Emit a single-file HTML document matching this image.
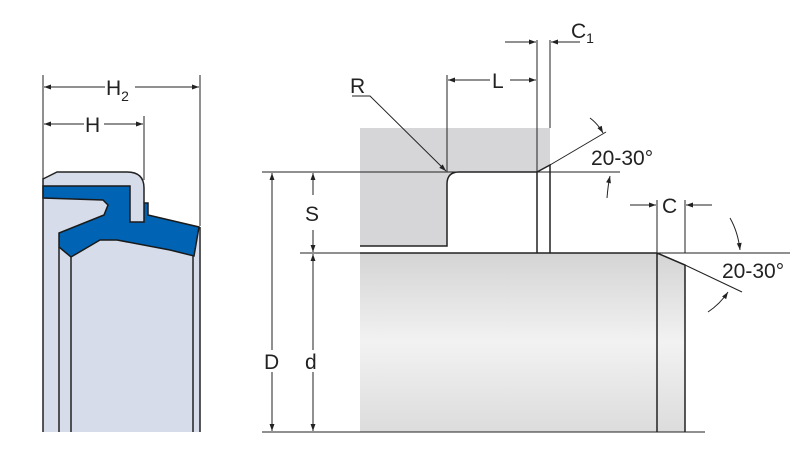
<!DOCTYPE html>
<html><head><meta charset="utf-8"><style>body{margin:0;background:#fff}svg{display:block}text{font-family:"Liberation Sans",sans-serif;fill:#222}</style></head><body>
<svg width="800" height="450" viewBox="0 0 800 450" xmlns="http://www.w3.org/2000/svg">
<defs>
<marker id="a" viewBox="0 0 10 10" refX="10" refY="5" markerWidth="9" markerHeight="7" orient="auto-start-reverse" markerUnits="userSpaceOnUse"><path d="M0,1.5L10,5L0,8.5z" fill="#222"/></marker>
<linearGradient id="g" x1="0" y1="0" x2="0" y2="1"><stop offset="0" stop-color="#d4d4d4"/><stop offset="0.5" stop-color="#f2f2f2"/><stop offset="1" stop-color="#dcdcdc"/></linearGradient>
</defs>
<g stroke="#222" fill="none" stroke-width="1">
<!-- seal -->
<path d="M43,179L57,172L127,172Q144,172 144,188L144,222L148,215L199,227L200,432L43,432Z" fill="#d6dce9" stroke="none"/>
<path d="M43,186L130,186L130,222L144,222L144,203L148,203L148,215L199,227L194,256L170,250L117,240L100,240L71,257L59,247L59,233L104,215L108,205L103,200L43,198Z" fill="#0063b4" stroke="#1a1a1a" stroke-width="1.5"/>
<path d="M43,179L57,172L127,172Q144,172 144,188L144,203" stroke-width="1.5"/>
<path d="M43,178V432M59,247V432M71,257V432M193,256V432M200,227V432" stroke-width="1.5"/>
<path d="M43,75V178M200,75V226M144,116V180"/>
<path d="M44,87H199" marker-start="url(#a)" marker-end="url(#a)"/>
<path d="M44,124H143" marker-start="url(#a)" marker-end="url(#a)"/>
<!-- housing -->
<path d="M360,128H550V165L537,172H459Q447,172 447,184V246H360Z" fill="#d6d6d8" stroke="none"/>
<path d="M360,246H447V184Q447,172 459,172H537V253M537,172L550,165V253" stroke-width="1.5"/>
<!-- shaft -->
<path d="M360,253H657L685,265V432H360Z" fill="url(#g)" stroke="none"/>
<path d="M360,253H657L685,265V432M657,253V432" stroke-width="1.5"/>
<!-- extension lines -->
<path d="M262,172H620M300,253H790M262,432H705"/>
<path d="M447,75V172M537,40V172M550,40V128M657,200V253M685,200V253"/>
<!-- D d S -->
<path d="M272,173V431" marker-start="url(#a)" marker-end="url(#a)"/>
<path d="M313,254V431" marker-start="url(#a)" marker-end="url(#a)"/>
<path d="M313,195V173" marker-end="url(#a)"/><path d="M313,230V252" marker-end="url(#a)"/>
<!-- L, C1 -->
<path d="M448,80H536" marker-start="url(#a)" marker-end="url(#a)"/>
<path d="M505,42H536" marker-end="url(#a)"/><path d="M580,42H551" marker-end="url(#a)"/>
<!-- R -->
<path d="M352,96H370L446,171" marker-end="url(#a)"/>
<!-- upper angle -->
<path d="M550,165L606,132"/>
<path d="M590,118Q598,124 603,133" marker-end="url(#a)"/>
<path d="M607,198Q608,185 610,176" marker-end="url(#a)"/>
<!-- C -->
<path d="M630,205H656" marker-end="url(#a)"/><path d="M712,205H686" marker-end="url(#a)"/>
<!-- lower angle -->
<path d="M685,265L742,292"/>
<path d="M730,218Q738,232 740,250" marker-end="url(#a)"/>
<path d="M708,312Q720,304 728,292" marker-end="url(#a)"/>
</g>
<g font-size="21">
<rect x="263" y="350" width="18" height="22" fill="#fff"/><text x="264" y="369">D</text>
<rect x="304" y="350" width="16" height="22" fill="#fff"/><text x="305" y="369">d</text>
<rect x="304" y="202" width="16" height="22" fill="#fff"/><text x="305" y="221">S</text>
<rect x="105" y="76" width="30" height="22" fill="#fff"/><text x="106" y="95">H<tspan font-size="14" dy="6">2</tspan></text>
<rect x="84" y="113" width="20" height="22" fill="#fff"/><text x="85" y="132">H</text>
<rect x="490" y="69" width="20" height="22" fill="#fff"/><text x="492" y="88">L</text>
<text x="350" y="93">R</text>
<text x="571" y="38">C<tspan font-size="14" dy="5">1</tspan></text>
<text x="662" y="213">C</text>
<text x="591" y="165">20-30°</text>
<text x="722" y="278">20-30°</text>
</g>
</svg>
</body></html>
